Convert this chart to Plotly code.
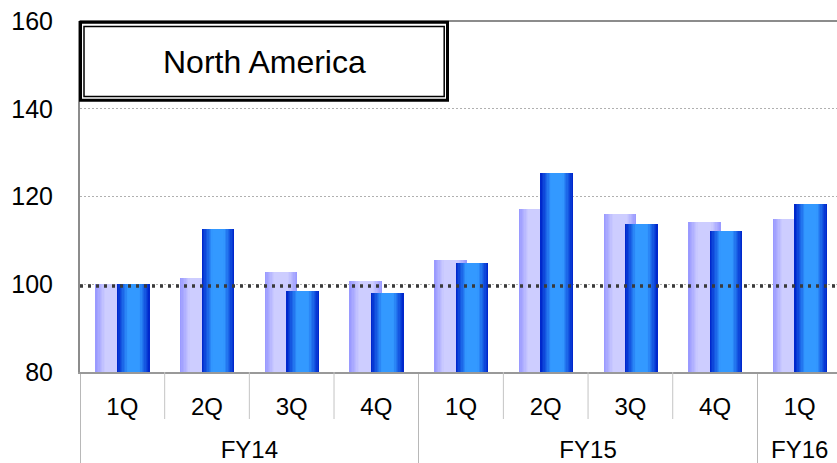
import plotly.graph_objects as go

years = ["FY14"] * 4 + ["FY15"] * 4 + ["FY16"]
quarters = ["1Q", "2Q", "3Q", "4Q", "1Q", "2Q", "3Q", "4Q", "1Q"]
light_vals = [100.0, 101.4, 102.7, 100.7, 105.5, 117.1, 115.9, 114.1, 114.8]
dark_vals = [100.0, 112.5, 98.4, 97.9, 104.8, 125.3, 113.7, 112.1, 118.4]
yticks = [80, 100, 120, 140, 160]
title_text = "North America"

FONT = "Liberation Sans, Arial, sans-serif"
W = 0.385
K = 12
XR = [-0.5, 8.44]

# quarter labels get an invisible tiny second line so the year row sits lower
q_labels = [q + "<br><span style='font-size:1px'> </span>" for q in quarters]


def lerp(c1, c2, t):
    a = [int(c1[i:i + 2], 16) for i in (1, 3, 5)]
    b = [int(c2[i:i + 2], 16) for i in (1, 3, 5)]
    return "rgb(%d,%d,%d)" % tuple(round(a[k] + (b[k] - a[k]) * t) for k in range(3))


fig = go.Figure()


def add_gradient_bars(vals, center, edge_col, mid_col, ramp):
    n = len(vals)
    for j in range(K):
        f = 1 - j / K
        w = W * f
        t = min(1.0, j / (ramp * K))
        fig.add_trace(go.Bar(
            x=[years, q_labels], y=vals,
            width=[w] * n, offset=[center - w / 2] * n,
            marker=dict(color=lerp(edge_col, mid_col, t), line=dict(width=0)),
            showlegend=False, hoverinfo="skip",
        ))


add_gradient_bars(light_vals, -0.125, "#9a9aff", "#cdcdff", 0.55)
add_gradient_bars(dark_vals, 0.13, "#0028cc", "#3399ff", 0.6)

L, T, B = 80, 21, 91
PW, PH = 837 - L, 463 - T - B


def px(x):
    return (x - L) / PW


def py(y):
    return (463 - B - y) / PH


shapes = []
shapes.append(dict(type="line", xref="paper", yref="paper", x0=0, x1=1, y0=1, y1=1,
                   line=dict(color="#8c8c8c", width=2), layer="above"))
shapes.append(dict(type="line", xref="paper", yref="y", x0=0, x1=1, y0=99.6, y1=99.6,
                   line=dict(color="#3a3a3a", width=3.5, dash="3px,5px"), layer="above"))
ncat = len(quarters)
span = XR[1] - XR[0]
for k in range(1, ncat):
    if years[k] != years[k - 1]:
        continue
    xp = (k - 0.5 - XR[0]) / span
    shapes.append(dict(type="line", xref="paper", yref="paper", x0=xp, x1=xp,
                       y0=0, y1=-47 / PH, line=dict(color="#c4c4c4", width=1)))
shapes.append(dict(type="rect", xref="paper", yref="paper",
                   x0=px(80.5), x1=px(447.5), y0=py(100.2), y1=py(22.2),
                   line=dict(color="black", width=3), fillcolor="white", layer="above"))
shapes.append(dict(type="rect", xref="paper", yref="paper",
                   x0=px(84), x1=px(444.2), y0=py(96.6), y1=py(26.6),
                   line=dict(color="black", width=1.5), layer="above"))

fig.update_layout(
    width=837, height=463,
    margin=dict(l=L, r=0, t=T, b=B, pad=0, autoexpand=False),
    paper_bgcolor="white", plot_bgcolor="white",
    barmode="overlay", bargap=0,
    font=dict(family=FONT, size=25, color="black"),
    shapes=shapes,
    annotations=[dict(text=title_text, xref="paper", yref="paper",
                      x=px(264), y=py(61.5), xanchor="center", yanchor="middle",
                      showarrow=False, font=dict(family=FONT, size=32, color="black"))],
)
fig.update_yaxes(range=[80, 160], tickvals=yticks, showgrid=True,
                 gridcolor="#b0b0b0", gridwidth=1, griddash="2px,2px",
                 showline=True, linecolor="#8c8c8c", linewidth=2,
                 ticks="", ticklabelstandoff=20, zeroline=False, automargin=False,
                 tickfont=dict(family=FONT, size=25, color="black"))
fig.update_xaxes(type="multicategory", range=XR, showgrid=False,
                 showline=True, linecolor="#999999", linewidth=2,
                 ticks="", ticklabelstandoff=12, automargin=False,
                 showdividers=True, dividercolor="#b8b8b8", dividerwidth=1,
                 tickfont=dict(family=FONT, size=24, color="black"))

fig.write_html("out.html")
